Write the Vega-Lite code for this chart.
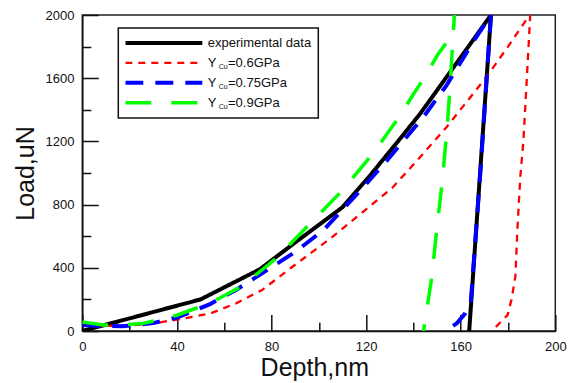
{
  "$schema": "https://vega.github.io/schema/vega-lite/v6.json",
  "width": 473,
  "height": 316,
  "autosize": {"type": "none"},
  "padding": {"left": 82.3, "top": 15, "right": 16.7, "bottom": 52},
  "background": "white",
  "config": {
    "font": "Liberation Sans",
    "view": {"stroke": "#222", "strokeWidth": 1.5},
    "axis": {
      "grid": false,
      "domainColor": "#111",
      "domainWidth": 1.5,
      "tickColor": "#111",
      "tickWidth": 1.5,
      "labelFont": "Liberation Sans",
      "labelFontSize": 13,
      "labelColor": "#111",
      "labelFlush": false,
      "labelOverlap": false,
      "titleFont": "Liberation Sans",
      "titleFontSize": 25,
      "titleFontWeight": "normal",
      "titleColor": "#111"
    }
  },
  "data": {
    "values": [
      {"series": "experimental data", "depth": 0, "load": 0},
      {"series": "experimental data", "depth": 50, "load": 200},
      {"series": "experimental data", "depth": 75, "load": 390},
      {"series": "experimental data", "depth": 90, "load": 560},
      {"series": "experimental data", "depth": 110, "load": 783},
      {"series": "experimental data", "depth": 122, "load": 990},
      {"series": "experimental data", "depth": 134, "load": 1210},
      {"series": "experimental data", "depth": 143, "load": 1378},
      {"series": "experimental data", "depth": 158, "load": 1690},
      {"series": "experimental data", "depth": 172.8, "load": 2000},
      {"series": "experimental data", "depth": 163.6, "load": 0},

      {"series": "YCu=0.6GPa", "depth": 0, "load": 42},
      {"series": "YCu=0.6GPa", "depth": 10, "load": 32},
      {"series": "YCu=0.6GPa", "depth": 20, "load": 34},
      {"series": "YCu=0.6GPa", "depth": 30, "load": 48},
      {"series": "YCu=0.6GPa", "depth": 40, "load": 72},
      {"series": "YCu=0.6GPa", "depth": 54, "load": 110},
      {"series": "YCu=0.6GPa", "depth": 65, "load": 175},
      {"series": "YCu=0.6GPa", "depth": 76, "load": 259},
      {"series": "YCu=0.6GPa", "depth": 88, "load": 397},
      {"series": "YCu=0.6GPa", "depth": 105, "load": 587},
      {"series": "YCu=0.6GPa", "depth": 120, "load": 770},
      {"series": "YCu=0.6GPa", "depth": 131, "load": 905},
      {"series": "YCu=0.6GPa", "depth": 143, "load": 1103},
      {"series": "YCu=0.6GPa", "depth": 154, "load": 1290},
      {"series": "YCu=0.6GPa", "depth": 171, "load": 1610},
      {"series": "YCu=0.6GPa", "depth": 180, "load": 1800},
      {"series": "YCu=0.6GPa", "depth": 188, "load": 1975},
      {"series": "YCu=0.6GPa", "depth": 189.4, "load": 2000},
      {"series": "YCu=0.6GPa", "depth": 188, "load": 1610},
      {"series": "YCu=0.6GPa", "depth": 186.5, "load": 1200},
      {"series": "YCu=0.6GPa", "depth": 185.2, "load": 977},
      {"series": "YCu=0.6GPa", "depth": 184, "load": 650},
      {"series": "YCu=0.6GPa", "depth": 183.1, "load": 344},
      {"series": "YCu=0.6GPa", "depth": 181.5, "load": 200},
      {"series": "YCu=0.6GPa", "depth": 179.8, "load": 101},
      {"series": "YCu=0.6GPa", "depth": 173.2, "load": 0},

      {"series": "YCu=0.75GPa", "depth": 0, "load": 38},
      {"series": "YCu=0.75GPa", "depth": 8, "load": 32},
      {"series": "YCu=0.75GPa", "depth": 17, "load": 30},
      {"series": "YCu=0.75GPa", "depth": 30, "load": 50},
      {"series": "YCu=0.75GPa", "depth": 40, "load": 85},
      {"series": "YCu=0.75GPa", "depth": 54, "load": 170},
      {"series": "YCu=0.75GPa", "depth": 65, "load": 260},
      {"series": "YCu=0.75GPa", "depth": 76, "load": 365},
      {"series": "YCu=0.75GPa", "depth": 90, "load": 500},
      {"series": "YCu=0.75GPa", "depth": 102, "load": 639},
      {"series": "YCu=0.75GPa", "depth": 119, "load": 913},
      {"series": "YCu=0.75GPa", "depth": 129, "load": 1082},
      {"series": "YCu=0.75GPa", "depth": 144.3, "load": 1356},
      {"series": "YCu=0.75GPa", "depth": 154, "load": 1555},
      {"series": "YCu=0.75GPa", "depth": 165.5, "load": 1835},
      {"series": "YCu=0.75GPa", "depth": 172.8, "load": 2000},
      {"series": "YCu=0.75GPa", "depth": 168.3, "load": 1000},
      {"series": "YCu=0.75GPa", "depth": 164.3, "load": 190},
      {"series": "YCu=0.75GPa", "depth": 161.9, "load": 112},
      {"series": "YCu=0.75GPa", "depth": 158.4, "load": 49},
      {"series": "YCu=0.75GPa", "depth": 153.5, "load": 0},

      {"series": "YCu=0.9GPa", "depth": 0, "load": 57},
      {"series": "YCu=0.9GPa", "depth": 9, "load": 38},
      {"series": "YCu=0.9GPa", "depth": 18, "load": 40},
      {"series": "YCu=0.9GPa", "depth": 26, "load": 49},
      {"series": "YCu=0.9GPa", "depth": 40, "load": 100},
      {"series": "YCu=0.9GPa", "depth": 48, "load": 144},
      {"series": "YCu=0.9GPa", "depth": 58, "load": 207},
      {"series": "YCu=0.9GPa", "depth": 67, "load": 280},
      {"series": "YCu=0.9GPa", "depth": 75, "load": 375},
      {"series": "YCu=0.9GPa", "depth": 82, "load": 460},
      {"series": "YCu=0.9GPa", "depth": 95, "load": 660},
      {"series": "YCu=0.9GPa", "depth": 110, "load": 890},
      {"series": "YCu=0.9GPa", "depth": 123, "load": 1125},
      {"series": "YCu=0.9GPa", "depth": 133, "load": 1335},
      {"series": "YCu=0.9GPa", "depth": 145.7, "load": 1631},
      {"series": "YCu=0.9GPa", "depth": 150.3, "load": 1750},
      {"series": "YCu=0.9GPa", "depth": 157, "load": 1886},
      {"series": "YCu=0.9GPa", "depth": 157.3, "load": 2000},
      {"series": "YCu=0.9GPa", "depth": 155.6, "load": 1570},
      {"series": "YCu=0.9GPa", "depth": 154.2, "load": 1272},
      {"series": "YCu=0.9GPa", "depth": 152.1, "load": 935},
      {"series": "YCu=0.9GPa", "depth": 150, "load": 660},
      {"series": "YCu=0.9GPa", "depth": 147.8, "load": 344},
      {"series": "YCu=0.9GPa", "depth": 145, "load": 70},
      {"series": "YCu=0.9GPa", "depth": 144.3, "load": 0}
    ]
  },
  "encoding": {
    "x": {
      "field": "depth",
      "type": "quantitative",
      "scale": {"domain": [0, 200], "nice": false},
      "axis": {
        "title": "Depth,nm",
        "values": [0, 20, 40, 60, 80, 100, 120, 140, 160, 180, 200],
        "format": "d",
        "labelExpr": "datum.value % 40 === 0 ? datum.label : ''",
        "tickSize": {"expr": "datum.value % 40 === 0 ? -16.5 : -8.7"},
        "labelBaseline": "alphabetic",
        "labelPadding": 36,
        "titleX": 232,
        "titleY": 44,
        "titleAlign": "center",
        "titleBaseline": "alphabetic"
      }
    },
    "y": {
      "field": "load",
      "type": "quantitative",
      "scale": {"domain": [0, 2000], "nice": false},
      "axis": {
        "title": "Load,uN",
        "values": [0, 200, 400, 600, 800, 1000, 1200, 1400, 1600, 1800, 2000],
        "format": "d",
        "labelExpr": "datum.value % 400 === 0 ? datum.label : ''",
        "tickSize": {"expr": "datum.value % 400 === 0 ? -16 : -8.5"},
        "labelBaseline": "middle",
        "labelPadding": 24.3,
        "titleAngle": -90,
        "titleX": -49,
        "titleY": 158,
        "titleAlign": "center",
        "titleBaseline": "alphabetic"
      }
    }
  },
  "resolve": {"scale": {"shape": "independent"}},
  "layer": [
    {
      "mark": {"type": "line", "clip": true},
      "encoding": {
        "color": {
          "field": "series",
          "type": "nominal",
          "scale": {
            "domain": ["experimental data", "YCu=0.6GPa", "YCu=0.75GPa", "YCu=0.9GPa"],
            "range": ["#000000", "#ff0000", "#0000ff", "#00ff00"]
          },
          "legend": {
            "title": null,
            "orient": "none",
            "legendX": 36,
            "legendY": 13,
            "padding": 7,
            "strokeColor": "#111",
            "clipHeight": 16,
            "rowPadding": 3.9,
            "symbolType": "stroke",
            "symbolSize": 5929,
            "symbolOffset": -2,
            "labelOffset": 3.5,
            "labelFontSize": 13,
            "labelColor": "#111",
            "labelLimit": 300,
            "labelExpr": "datum.label === 'experimental data' ? datum.label : 'Y'",
            "encode": {"legend": {"update": {"strokeWidth": {"value": 1.5}}}}
          }
        },
        "strokeDash": {
          "field": "series",
          "type": "nominal",
          "scale": {
            "domain": ["experimental data", "YCu=0.6GPa", "YCu=0.75GPa", "YCu=0.9GPa"],
            "range": [[1, 0], [7, 6], [18, 12], [26, 20]]
          },
          "legend": {
            "title": null,
            "orient": "none",
            "legendX": 36,
            "legendY": 13,
            "padding": 7,
            "strokeColor": "#111",
            "clipHeight": 16,
            "rowPadding": 3.9,
            "symbolType": "stroke",
            "symbolSize": 5929,
            "symbolOffset": -2,
            "labelOffset": 3.5,
            "labelFontSize": 13,
            "labelColor": "#111",
            "labelLimit": 300,
            "labelExpr": "datum.label === 'experimental data' ? datum.label : 'Y'",
            "encode": {"legend": {"update": {"strokeWidth": {"value": 1.5}}}}
          }
        },
        "strokeWidth": {
          "field": "series",
          "type": "nominal",
          "scale": {
            "type": "ordinal",
            "domain": ["experimental data", "YCu=0.6GPa", "YCu=0.75GPa", "YCu=0.9GPa"],
            "range": [4, 2.3, 4, 3.5]
          },
          "legend": {
            "title": null,
            "orient": "none",
            "legendX": 36,
            "legendY": 13,
            "padding": 7,
            "strokeColor": "#111",
            "clipHeight": 16,
            "rowPadding": 3.9,
            "symbolType": "stroke",
            "symbolSize": 5929,
            "symbolOffset": -2,
            "labelOffset": 3.5,
            "labelFontSize": 13,
            "labelColor": "#111",
            "labelLimit": 300,
            "labelExpr": "datum.label === 'experimental data' ? datum.label : 'Y'",
            "encode": {"legend": {"update": {"strokeWidth": {"value": 1.5}}}}
          }
        },
        "order": {"value": null}
      }
    },
    {
      "transform": [{"filter": "datum.series !== 'experimental data'"}],
      "mark": {"type": "point", "opacity": 0},
      "encoding": {
        "shape": {
          "field": "series",
          "type": "nominal",
          "legend": {
            "title": null,
            "orient": "none",
            "legendX": 36,
            "legendY": 32.9,
            "padding": 7,
            "clipHeight": 16,
            "rowPadding": 3.9,
            "symbolType": "stroke",
            "symbolSize": 5929,
            "symbolOpacity": 0,
            "symbolStrokeWidth": 4,
            "labelOffset": 12.4,
            "labelFontSize": 7,
            "labelBaseline": "top",
            "labelColor": "#111",
            "labelExpr": "'Cu'"
          }
        }
      }
    },
    {
      "transform": [{"filter": "datum.series !== 'experimental data'"}],
      "mark": {"type": "point", "opacity": 0},
      "encoding": {
        "shape": {
          "field": "series",
          "type": "nominal",
          "legend": {
            "title": null,
            "orient": "none",
            "legendX": 36,
            "legendY": 32.9,
            "padding": 7,
            "clipHeight": 16,
            "rowPadding": 3.9,
            "symbolType": "stroke",
            "symbolSize": 5929,
            "symbolOpacity": 0,
            "symbolStrokeWidth": 4,
            "labelOffset": 21.7,
            "labelFontSize": 13,
            "labelColor": "#111",
            "labelLimit": 300,
            "labelExpr": "replace(datum.label, 'YCu', '')"
          }
        }
      }
    }
  ]
}
